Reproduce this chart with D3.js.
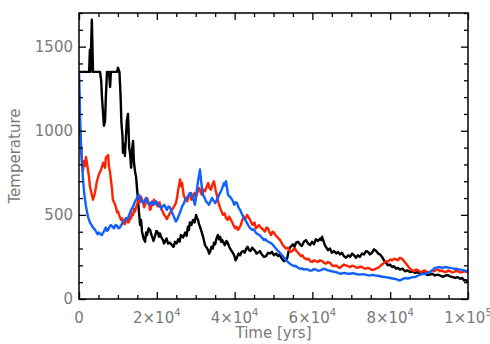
<!DOCTYPE html>
<html>
<head>
<meta charset="utf-8">
<script src="https://cdn.jsdelivr.net/npm/d3@7"></script>
<style>
  body { margin: 0; background: #fff; }
  svg { display: block; }
</style>
</head>
<body>
<div id="chart"></div>
<script>
// [time in kyr, temperature]
const blackRun = [
  [0,1350],[2.6,1350],[2.8,1480],[2.95,1350],[3.3,1660],[3.6,1350],[5.4,1350],[5.7,1300],[5.9,1200],
  [6.2,1100],[6.4,1030],[6.7,1060],[6.9,1200],[7.2,1350],[7.7,1350],[8.0,1260],[8.2,1350],[9.8,1350],
  [10.0,1375],[10.4,1350],[10.7,1200],[10.9,1050],[11.2,960],[11.3,870],[11.6,920],[11.8,850],[12.1,980],
  [12.3,1060],[12.6,1100],[12.9,900],[13.1,870],[13.4,780],[13.6,880],[13.9,940],[14.1,820],[14.4,760],
  [14.7,720],[14.9,660],[15.2,580],[15.4,520],
  [15.7,440],[15.95,470],[16.2,400],[16.6,360],[17.0,340],[17.25,395],[17.5,380],[17.9,420],[18.3,410],
  [18.55,385],[18.8,370],[19.15,345],[19.5,370],[19.9,405],[20.3,395],[20.55,370],[20.8,390],[21.2,365],
  [21.6,350],[21.85,330],[22.1,340],[22.5,360],[22.9,330],[23.4,335],[23.9,320],[24.3,310],[24.7,340],
  [25.1,330],[25.5,355],[25.85,340],[26.2,380],[26.75,365],[27.3,395],[27.65,375],[28.0,430],[28.25,410],
  [28.5,455],[28.9,440],[29.3,470],[29.7,455],[30.1,500],[30.35,480],[30.6,470],[30.85,445],[31.1,430],
  [31.5,400],[31.9,370],[32.15,345],[32.4,320],[32.8,305],[33.2,290],[33.45,270],[33.7,280],[34.05,310],
  [34.4,300],[34.7,335],[35.0,325],[35.35,360],[35.7,380],[36.0,355],[36.3,370],[36.55,340],[36.8,350],
  [37.15,335],[37.5,320],[37.9,345],[38.3,330],[38.7,305],[39.1,290],[39.5,275],[39.9,260],[40.25,230],
  [40.6,245],[41.0,270],[41.4,260],[41.8,280],[42.2,285],[42.6,275],[43.0,300],[43.35,310],[43.7,290],
  [44.1,285],[44.5,305],[44.9,295],[45.3,285],[45.65,270],[46.0,275],[46.5,285],[47.0,265],[47.55,250],
  [48.1,255],[48.6,275],[49.1,270],[49.6,280],[50.1,260],[50.65,270],[51.2,255],[51.6,265],[52.0,245],
  [52.35,235],[52.7,225],[53.1,230],[53.5,240],[53.85,280],[54.2,305],[54.6,315],[55.0,325],[55.4,310],
  [55.8,335],[56.3,340],[56.8,325],[57.3,315],[57.8,340],[58.35,350],[58.9,330],[59.4,320],[59.9,340],
  [60.4,325],[60.9,355],[61.45,345],[62.0,360],[62.25,350],[62.5,370],[62.85,345],[63.2,320],[63.6,305],
  [64.0,290],[64.5,300],[65.0,275],[65.55,285],[66.1,270],[66.6,280],[67.1,265],[67.6,275],[68.1,255],
  [68.65,245],[69.2,260],[69.7,250],[70.2,270],[70.7,260],[71.2,245],[71.7,260],[72.2,250],[72.75,270],
  [73.3,265],[73.8,285],[74.3,280],[74.8,265],[75.3,275],[75.85,295],[76.4,285],[76.9,270],[77.4,265],
  [77.9,250],[78.4,230],[78.9,215],[79.4,200],[79.95,205],[80.5,190],[81.0,195],[81.5,180],[82.0,185],
  [82.5,175],[83.15,180],[83.8,165],[84.45,170],[85.1,160],[85.75,165],[86.4,155],[87.05,160],[87.7,150],
  [88.35,158],[89.0,150],[89.6,142],[90.2,145],[90.85,150],[91.5,140],[92.15,145],[92.8,140],[93.45,132],
  [94.1,138],[94.75,142],[95.4,135],[96.05,130],[96.7,125],[97.35,130],[98.0,120],[98.5,125],[99.0,110],
  [99.5,112],[100,100]
];

const redRun = [
  [0,1150],[0.26,1000],[0.5,900],[0.8,800],[1.0,760],[1.3,820],[1.5,790],[1.8,845],[2.1,800],[2.3,770],
  [2.6,720],[2.8,670],[3.2,630],[3.6,590],[4.1,630],[4.6,700],[5.1,740],[5.7,770],[6.2,810],[6.7,780],
  [6.9,840],[7.5,855],[7.7,790],[8.0,750],[8.5,650],
  [8.7,590],[9.0,575],[9.3,560],[9.55,540],[9.8,515],[10.05,520],[10.3,500],[10.55,485],[10.8,470],
  [11.05,480],[11.3,450],[11.55,465],[11.8,445],[12.05,470],[12.3,480],[12.6,455],[12.9,460],[13.15,490],
  [13.4,480],[13.65,510],[13.9,500],[14.15,535],[14.4,520],[14.65,545],[14.9,560],[15.15,580],[15.4,590],
  [15.65,575],[15.9,610],[16.2,590],[16.5,570],[16.75,545],[17.0,560],[17.25,585],[17.5,600],[17.75,580],
  [18.0,570],[18.25,530],[18.5,540],[18.75,575],[19.0,560],[19.25,590],[19.5,580],[19.9,560],[20.3,550],
  [20.7,575],[21.1,540],[21.5,520],[21.9,500],[22.25,490],[22.6,475],[23.0,495],[23.4,510],[23.8,530],
  [24.2,540],[24.55,555],[24.9,570],[25.2,600],[25.5,650],[25.75,680],[26.0,710],[26.25,670],[26.5,690],
  [26.75,640],[27.0,610],[27.4,595],[27.8,580],[28.15,610],[28.5,630],[28.9,590],[29.3,600],[29.7,630],
  [30.1,610],[30.5,640],[30.9,660],[31.25,635],[31.6,620],[32.0,650],[32.4,640],[32.8,665],[33.2,690],
  [33.55,660],[33.9,650],[34.3,680],[34.7,700],[35.1,650],[35.5,610],[35.9,570],[36.3,540],[36.65,520],
  [37.0,500],[37.4,510],[37.8,480],[38.2,470],[38.6,490],[38.95,475],[39.3,460],[39.7,440],[40.1,420],
  [40.5,430],[40.9,410],[41.25,425],[41.6,440],[42.0,470],[42.4,490],[42.8,475],[43.2,500],[43.6,485],
  [44.0,470],[44.35,450],[44.7,440],[45.1,455],[45.5,420],[45.9,430],[46.3,440],[46.65,425],[47.0,420],
  [47.4,410],[47.8,400],[48.2,425],[48.6,420],[49.0,395],[49.4,380],[49.75,400],[50.1,395],[50.5,380],
  [50.9,370],[51.3,360],[51.7,350],[52.05,335],[52.4,320],[52.8,310],[53.2,300],[53.6,305],[54.0,290],
  [54.4,280],[54.8,285],[55.15,295],[55.5,300],[55.9,285],[56.3,275],[56.7,265],[57.1,255],[57.45,260],
  [57.8,245],[58.2,240],[58.6,235],[59.0,240],[59.4,225],[59.9,220],[60.4,230],[60.9,225],[61.4,220],
  [61.95,230],[62.5,225],[63.0,215],[63.5,210],[64.0,220],[64.5,215],[65.05,200],[65.6,195],[66.1,200],
  [66.6,190],[67.1,185],[67.6,195],[68.1,205],[68.6,200],[69.15,195],[69.7,190],[70.2,198],[70.7,195],
  [71.2,188],[71.7,185],[72.25,192],[72.8,190],[73.3,182],[73.8,180],[74.3,185],[74.8,180],[75.3,172],
  [75.8,175],[76.35,180],[76.9,185],[77.4,195],[77.9,205],[78.4,215],[78.9,225],[79.45,222],[80.0,235],
  [80.5,230],[81.0,240],[81.5,235],[82.0,230],[82.5,245],[83.0,240],[83.55,225],[84.1,210],[84.6,195],
  [85.1,180],[85.6,172],[86.1,165],[86.65,175],[87.2,170],[87.7,162],[88.2,160],[88.7,170],[89.2,165],
  [89.7,158],[90.2,160],[90.75,170],[91.3,165],[91.8,172],[92.3,175],[92.8,165],[93.3,170],[93.85,162],
  [94.4,160],[94.9,170],[95.4,165],[95.9,158],[96.4,160],[96.9,168],[97.4,165],[97.95,158],[98.5,160],
  [99.2,165],[100,160]
];

const blueRun = [
  [0,1350],[0.13,1250],[0.26,1100],[0.5,930],[0.8,800],[1.0,720],[1.3,640],[1.5,600],[1.8,550],[2.3,490],
  [2.8,455],[3.2,440],[3.6,425],[4.0,415],[4.4,400],[4.75,385],[5.1,395],[5.5,385],[5.9,380],[6.15,395],
  [6.4,400],[6.65,415],[6.9,425],[7.2,405],[7.5,410],[7.85,430],[8.2,440],[8.6,430],[9.0,420],[9.4,440],
  [9.8,435],[10.15,420],[10.5,425],[10.9,440],[11.3,455],[11.7,470],[12.1,480],[12.5,475],[12.9,500],
  [13.15,515],[13.4,530],[13.65,540],[13.9,550],[14.15,565],[14.4,580],[14.65,590],[14.9,600],[15.15,610],
  [15.4,620],[15.65,600],[15.9,590],[16.2,580],[16.5,570],[16.85,585],[17.2,600],[17.6,575],[18.0,560],
  [18.4,570],[18.8,580],[19.15,560],[19.5,570],[19.9,580],[20.3,560],[20.7,555],[21.1,540],[21.5,550],
  [21.9,560],[22.25,545],[22.6,530],[23.0,550],[23.4,545],[23.8,520],[24.2,500],[24.55,480],[24.9,460],
  [25.3,475],[25.7,500],[26.1,520],[26.5,550],[26.9,565],[27.3,590],[27.65,600],[28.0,610],[28.4,625],
  [28.8,630],[29.05,615],[29.3,600],[29.55,580],[29.8,560],[30.05,600],[30.3,650],[30.6,700],[30.9,740],
  [31.1,770],[31.4,700],[31.65,650],[31.9,620],[32.3,600],[32.7,580],[33.05,570],[33.4,560],[33.8,580],
  [34.2,600],[34.6,585],[35.0,570],[35.35,585],[35.7,600],[36.1,625],[36.5,640],[36.9,665],[37.3,690],
  [37.55,675],[37.8,700],[38.05,660],[38.3,620],[38.7,610],[39.1,600],[39.5,585],[39.9,560],[40.25,575],
  [40.6,570],[41.0,545],[41.4,530],[41.8,510],[42.2,490],[42.6,475],[43.0,460],[43.35,445],[43.7,430],
  [44.1,420],[44.5,410],[44.9,415],[45.3,400],[45.65,390],[46.0,385],[46.4,380],[46.8,370],[47.2,360],
  [47.6,350],[47.95,355],[48.3,345],[48.7,340],[49.1,335],[49.5,330],[49.9,320],[50.25,310],[50.6,300],
  [51.0,290],[51.4,280],[51.8,270],[52.2,260],[52.6,250],[53.0,240],[53.35,228],[53.7,220],[54.1,212],
  [54.5,205],[54.9,200],[55.3,195],[55.65,198],[56.0,190],[56.4,185],[56.8,180],[57.3,182],[57.8,175],
  [58.35,178],[58.9,175],[59.4,168],[59.9,170],[60.4,178],[60.9,175],[61.45,168],[62.0,170],[62.5,175],
  [63.0,180],[63.5,175],[64.0,170],[64.5,168],[65.0,165],[65.55,162],[66.1,160],[66.6,155],[67.1,150],
  [67.75,153],[68.4,155],[69.05,150],[69.7,150],[70.35,154],[71.0,150],[71.6,147],[72.2,145],[72.85,148],
  [73.5,145],[74.15,142],[74.8,140],[75.45,143],[76.1,140],[76.75,138],[77.4,135],[78.05,132],[78.7,130],
  [79.35,128],[80.0,125],[80.6,122],[81.2,120],[81.85,115],[82.5,110],[83.15,118],[83.8,125],[84.45,122],
  [85.1,125],[85.75,130],[86.4,130],[87.05,138],[87.7,145],[88.35,148],[89.0,150],[89.6,155],[90.2,160],
  [90.85,172],[91.5,185],[92.15,188],[92.8,190],[93.45,185],[94.1,190],[94.75,188],[95.4,185],[96.05,182],
  [96.7,180],[97.35,178],[98.0,175],[99.0,170],[100,165]
];

const series = [
  { name: "black", color: "#000000", values: blackRun },
  { name: "red", color: "#ff2200", values: redRun },
  { name: "blue", color: "#1060ff", values: blueRun }
];

const xMajor = [0, 20000, 40000, 60000, 80000, 100000];
const xLabels = [["0", null], ["2×10", "4"], ["4×10", "4"], ["6×10", "4"], ["8×10", "4"], ["1×10", "5"]];
const yMajor = [0, 500, 1000, 1500];
const yLabels = ["0", "500", "1000", "1500"];

let width = 490,
  height = 344;
let margin = { top: 13, right: 22, bottom: 45, left: 79 };
let innerW = width - margin.left - margin.right,
  innerH = height - margin.top - margin.bottom;

let svg = d3.select("#chart").append("svg")
  .attr("width", width)
  .attr("height", height);

let x = d3.scaleLinear().domain([0, 100000]).range([margin.left, margin.left + innerW]);
let y = d3.scaleLinear().domain([0, 1700]).range([margin.top + innerH, margin.top]);

let plot = svg.append("g");

plot.append("clipPath").attr("id", "clip")
  .append("rect")
  .attr("x", margin.left).attr("y", margin.top)
  .attr("width", innerW).attr("height", innerH);

let line = d3.line()
  .x(d => x(d[0] * 1000))
  .y(d => y(d[1]));

plot.append("g")
  .attr("clip-path", "url(#clip)")
  .selectAll("path")
  .data(series)
  .enter()
  .append("path")
  .attr("d", d => line(d.values))
  .attr("fill", "none")
  .attr("stroke", d => d.color)
  .attr("stroke-width", 2.4)
  .attr("stroke-linejoin", "round");

// IDL-style inward ticks on all four sides
let xMinor = d3.range(0, 100001, 5000).filter(v => v % 20000 !== 0);
let yMinor = d3.range(0, 1701, 100).filter(v => v % 500 !== 0);
let majorLen = 7, minorLen = 4;

function addAxis(axis, tx, ty) {
  let g = svg.append("g")
    .attr("transform", "translate(" + tx + "," + ty + ")")
    .call(axis);
  g.selectAll("text").remove();
  g.select(".domain").remove();
  g.selectAll("line").attr("stroke", "#000").attr("stroke-width", 1.3);
  return g;
}

let bottom = margin.top + innerH,
  right = margin.left + innerW;

addAxis(d3.axisTop(x).tickValues(xMajor).tickSize(majorLen), 0, bottom);
addAxis(d3.axisTop(x).tickValues(xMinor).tickSize(minorLen), 0, bottom);
addAxis(d3.axisBottom(x).tickValues(xMajor).tickSize(majorLen), 0, margin.top);
addAxis(d3.axisBottom(x).tickValues(xMinor).tickSize(minorLen), 0, margin.top);
addAxis(d3.axisRight(y).tickValues(yMajor).tickSize(majorLen), margin.left, 0);
addAxis(d3.axisRight(y).tickValues(yMinor).tickSize(minorLen), margin.left, 0);
addAxis(d3.axisLeft(y).tickValues(yMajor).tickSize(majorLen), right, 0);
addAxis(d3.axisLeft(y).tickValues(yMinor).tickSize(minorLen), right, 0);

svg.append("rect")
  .attr("x", margin.left).attr("y", margin.top)
  .attr("width", innerW).attr("height", innerH)
  .attr("fill", "none")
  .attr("stroke", "#000")
  .attr("stroke-width", 1.5);

let labelColor = "#7a7a7a";
let font = "'DejaVu Sans', Arial, sans-serif";

// x tick labels with superscript exponents
let xl = svg.append("g")
  .attr("font-family", font)
  .attr("font-size", 15)
  .attr("fill", labelColor)
  .selectAll("text")
  .data(xMajor)
  .enter()
  .append("text")
  .attr("x", d => x(d))
  .attr("y", bottom + 24)
  .attr("text-anchor", "middle");

xl.each(function(d, i) {
  let t = d3.select(this);
  t.append("tspan").text(xLabels[i][0]);
  if (xLabels[i][1]) {
    t.append("tspan")
      .attr("dy", -7)
      .attr("font-size", 10)
      .text(xLabels[i][1]);
  }
});

svg.append("g")
  .attr("font-family", font)
  .attr("font-size", 15)
  .attr("fill", labelColor)
  .selectAll("text")
  .data(yMajor)
  .enter()
  .append("text")
  .attr("x", margin.left - 6)
  .attr("y", d => y(d) + 5)
  .attr("text-anchor", "end")
  .text((d, i) => yLabels[i]);

svg.append("text")
  .attr("x", margin.left + innerW / 2)
  .attr("y", height - 6)
  .attr("text-anchor", "middle")
  .attr("font-family", font)
  .attr("font-size", 15)
  .attr("fill", labelColor)
  .text("Time [yrs]");

svg.append("text")
  .attr("transform", "translate(20," + (margin.top + innerH / 2) + ") rotate(-90)")
  .attr("text-anchor", "middle")
  .attr("font-family", font)
  .attr("font-size", 15)
  .attr("fill", labelColor)
  .text("Temperature");
</script>
</body>
</html>
